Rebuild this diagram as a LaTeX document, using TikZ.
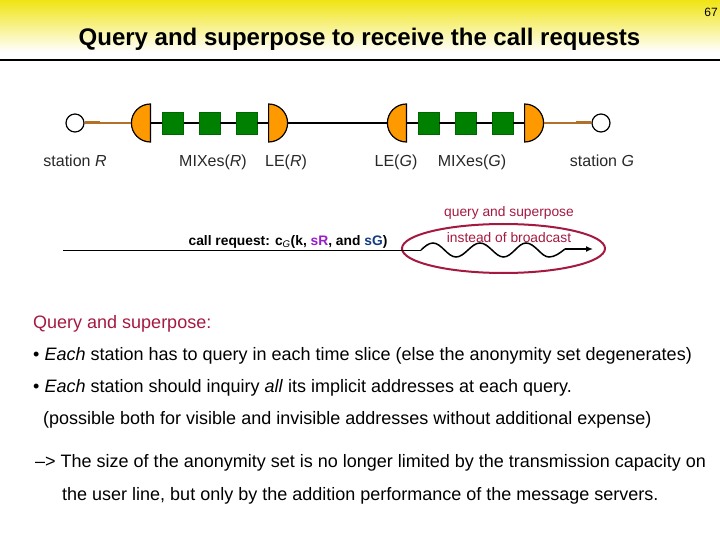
\documentclass[tikz,border=0pt]{standalone}
\usepackage{fontspec}
\setmainfont{Liberation Sans}
\usetikzlibrary{shapes.geometric,arrows.meta}
\definecolor{crimson}{RGB}{165,25,65}
\definecolor{leorange}{RGB}{255,153,0}
\definecolor{mixgreen}{RGB}{0,128,0}
\definecolor{userbrown}{RGB}{178,112,40}
\definecolor{labelgray}{RGB}{40,40,40}
\definecolor{headyellow}{RGB}{240,228,20}
\definecolor{srpurple}{RGB}{150,30,200}
\definecolor{sgblue}{RGB}{20,60,130}
\begin{document}
\begin{tikzpicture}[
    x=1pt, y=-1pt,
    station/.style={circle, draw=black, line width=1.2pt, fill=white, minimum size=18pt, inner sep=0pt},
    mix/.style={rectangle, draw=black!60!green, fill=mixgreen, minimum width=21pt, minimum height=22pt, inner sep=0pt},
    leleft/.style={semicircle, shape border rotate=90, anchor=chord center, draw=black, line width=1.2pt, fill=leorange, minimum size=19pt, inner sep=0pt},
    leright/.style={semicircle, shape border rotate=270, anchor=chord center, draw=black, line width=1.2pt, fill=leorange, minimum size=19pt, inner sep=0pt},
    label/.style={anchor=base, font=\fontsize{16}{19}\selectfont, text=labelgray, inner sep=0pt},
    redtext/.style={anchor=base, inner sep=0pt, text=crimson, font=\fontsize{13.8}{16}\selectfont},
    body/.style={anchor=base west, font=\fontsize{18}{21}\selectfont, text=black, inner sep=0pt},
    wire/.style={line width=1.3pt, black},
    userline/.style={userbrown, line width=1.3pt},
    userthick/.style={userbrown, line width=3pt}
]
\useasboundingbox (0,0) rectangle (720,540);

% Header
\fill[top color=headyellow, bottom color=white] (0,0) rectangle (720,52);
\node[anchor=base, inner sep=0pt, font=\fontsize{12}{14}\selectfont] at (711,17) (pagenum) {67};
\node[anchor=base, inner sep=0pt, font=\bfseries\fontsize{24}{28}\selectfont] at (359.5,46) (title) {Query and superpose to receive the call requests};
\coordinate (ruleL) at (0,60);
\coordinate (ruleR) at (720,60);
\draw[line width=2pt] (ruleL) -- (ruleR);

% Stations
\coordinate (brownR) at (100,123);
\coordinate (brownG) at (576,123);
\node[station] at (75,123) (stationR) {};
\node[station] at (601,123) (stationG) {};
\node[label] at (75,167) (stationRlabel) {station \textit{R}};
\node[label] at (602,167) (stationGlabel) {station \textit{G}};

% Local exchanges
\node[leleft] at (151,123) (leRin) {};
\node[leright] at (268,123) (leR) {};
\node[leleft] at (407,123) (leG) {};
\node[leright] at (524,123) (leGout) {};
\node[label] at (213,167) (mixRlabel) {MIXes(\textit{R})};
\node[label] at (286,167) (leRlabel) {LE(\textit{R})};
\node[label] at (396,167) (leGlabel) {LE(\textit{G})};
\node[label] at (472,167) (mixGlabel) {MIXes(\textit{G})};

% MIXes
\node[mix] at (173,123) (mixR1) {};
\node[mix] at (209.5,123) (mixR2) {};
\node[mix] at (246.5,123) (mixR3) {};
\node[mix] at (428.5,123) (mixG1) {};
\node[mix] at (465.5,123) (mixG2) {};
\node[mix] at (502.5,123) (mixG3) {};

% Lines
\draw[userthick] (stationR) -- (brownR);
\draw[userline] (brownR) -- (leRin);
\draw[userthick] (stationG) -- (brownG);
\draw[userline] (brownG) -- (leGout);
\draw[wire] (leRin) -- (mixR1);
\draw[wire] (mixR1) -- (mixR2);
\draw[wire] (mixR2) -- (mixR3);
\draw[wire] (mixR3) -- (leR);
\draw[wire] (leR) -- (leG);
\draw[wire] (leG) -- (mixG1);
\draw[wire] (mixG1) -- (mixG2);
\draw[wire] (mixG2) -- (mixG3);
\draw[wire] (mixG3) -- (leGout);

% Call request
\node[draw=crimson, line width=2pt, ellipse, minimum width=203pt, minimum height=49pt, inner sep=0pt] at (503.5,248.5) (superpose) {};
\node[redtext] at (509,216) (querytext) {query and superpose};
\node[redtext] at (509,242) (insteadtext) {instead of broadcast};
\node[anchor=base, inner sep=0pt, font=\bfseries\fontsize{13.8}{16}\selectfont] at (288,245) (calltext) {call request: c\textsubscript{\textmd{\textit{G}}}(k, \textcolor{srpurple}{sR}, and \textcolor{sgblue}{sG})};
\coordinate (callstart) at (63,250);
\coordinate (wavestart) at (421,250);
\coordinate (waveend) at (565,249);
\coordinate (callend) at (593,249);
\draw[line width=0.8pt] (callstart) -- (wavestart);
\draw[line width=1.5pt] (wavestart) sin (433,243) cos (444.5,250) sin (456,257) cos (468,250) sin (480,243) cos (492,250) sin (503.5,257) cos (515,250) sin (526,243) cos (538,250) sin (549,257) cos (waveend);
\draw[line width=1.8pt, -{Latex[length=7pt,width=6pt]}] (waveend) -- (callend);

% Text
\node[body, text=crimson] at (33,328) (t1) {Query and superpose:};
\node[body] at (33,360) (t2) {• \textit{Each} station has to query in each time slice (else the anonymity set degenerates)};
\node[body] at (33,392) (t3) {• \textit{Each} station should inquiry \textit{all} its implicit addresses at each query.};
\node[body] at (43,424) (t4) {(possible both for visible and invisible addresses without additional expense)};
\node[body] at (35,467) (t5) {--> The size of the anonymity set is no longer limited by the transmission capacity on};
\node[body] at (62,500) (t6) {the user line, but only by the addition performance of the message servers.};
\end{tikzpicture}
\end{document}
